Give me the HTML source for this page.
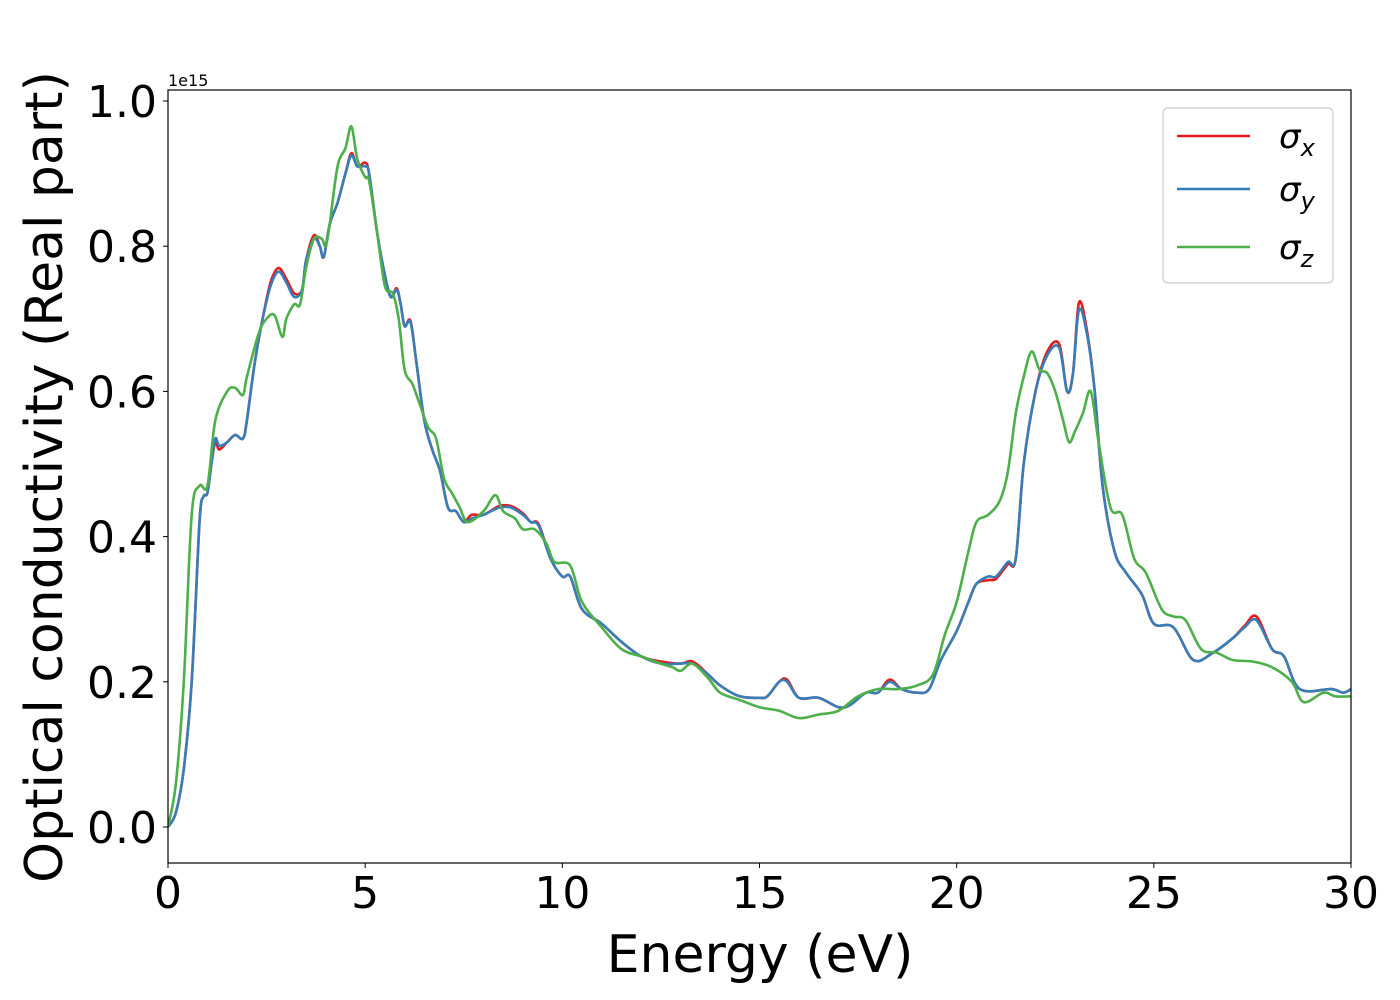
<!DOCTYPE html>
<html><head><meta charset="utf-8"><style>
html,body{margin:0;padding:0;background:#fff;}
svg{display:block;font-family:"DejaVu Sans","Liberation Sans",sans-serif;}
</style></head><body>
<svg id="chart" width="1400" height="1000" viewBox="0 0 1400 1000">
<rect x="0" y="0" width="1400" height="1000" fill="#fff"/>
<g id="plot"></g>
<g id="axes"></g>
<text x="168" y="86" font-size="16">1e15</text>
<text transform="translate(62,477) rotate(-90)" text-anchor="middle" font-size="52">Optical conductivity (Real part)</text>
<text x="760" y="972" text-anchor="middle" font-size="52">Energy (eV)</text>
<g>
<rect x="1163" y="108" width="170" height="175" rx="5" fill="#fff" stroke="#ccc" stroke-width="1.2"/>
<g><line x1="1177" y1="136" x2="1250" y2="136" stroke="#e41a1c" stroke-width="2.5"/><text x="1279" y="148" font-size="34" font-style="italic">σ<tspan font-size="24" dy="8">x</tspan></text></g>
<g><line x1="1177" y1="189" x2="1250" y2="189" stroke="#377eb8" stroke-width="2.5"/><text x="1279" y="201" font-size="34" font-style="italic">σ<tspan font-size="24" dy="8">y</tspan></text></g>
<g><line x1="1177" y1="247" x2="1250" y2="247" stroke="#4daf4a" stroke-width="2.5"/><text x="1279" y="259" font-size="34" font-style="italic">σ<tspan font-size="24" dy="8">z</tspan></text></g>
</g>
</svg>
<script>
const energyXY = [0,0.2,0.4,0.6,0.8,0.9,1.0,1.1,1.2,1.3,1.5,1.7,1.9,2.0,2.2,2.4,2.6,2.8,3.0,3.2,3.4,3.5,3.7,3.85,3.95,4.1,4.3,4.5,4.65,4.8,5.0,5.1,5.3,5.5,5.65,5.8,5.9,6.0,6.15,6.3,6.5,6.7,6.9,7.1,7.3,7.5,7.7,8.0,8.4,8.7,9.0,9.2,9.4,9.7,10.0,10.2,10.5,11,11.5,12,12.5,13,13.3,13.7,14,14.5,15,15.2,15.5,15.7,16,16.5,17,17.3,17.7,18,18.3,18.6,19,19.3,19.6,20,20.3,20.5,20.8,21,21.3,21.5,21.7,22,22.3,22.6,22.8,22.95,23.1,23.3,23.5,23.7,24,24.3,24.7,25,25.5,26,26.5,27,27.3,27.6,28,28.3,28.7,29.5,29.8,30];
const sigmaX = [0,0.02,0.08,0.2,0.42,0.455,0.46,0.5,0.53,0.52,0.53,0.54,0.535,0.56,0.64,0.7,0.75,0.77,0.755,0.735,0.74,0.78,0.815,0.8,0.785,0.83,0.86,0.9,0.928,0.91,0.915,0.9,0.82,0.76,0.73,0.742,0.72,0.69,0.697,0.64,0.56,0.52,0.49,0.44,0.435,0.42,0.43,0.43,0.442,0.442,0.432,0.42,0.417,0.37,0.345,0.345,0.3,0.28,0.255,0.235,0.228,0.225,0.228,0.21,0.195,0.18,0.178,0.18,0.2,0.203,0.178,0.178,0.165,0.168,0.185,0.185,0.203,0.19,0.185,0.19,0.23,0.27,0.31,0.335,0.34,0.342,0.362,0.37,0.5,0.6,0.655,0.665,0.6,0.625,0.722,0.685,0.6,0.47,0.38,0.35,0.32,0.28,0.275,0.23,0.24,0.26,0.277,0.29,0.245,0.235,0.19,0.19,0.185,0.19];
const sigmaY = [0,0.02,0.08,0.2,0.42,0.455,0.46,0.5,0.535,0.525,0.53,0.54,0.535,0.56,0.64,0.7,0.745,0.765,0.75,0.73,0.74,0.78,0.81,0.8,0.785,0.83,0.86,0.9,0.925,0.91,0.91,0.9,0.82,0.76,0.73,0.74,0.72,0.69,0.695,0.64,0.56,0.52,0.49,0.44,0.435,0.42,0.425,0.43,0.44,0.44,0.43,0.42,0.415,0.37,0.345,0.345,0.3,0.28,0.255,0.235,0.225,0.225,0.225,0.21,0.195,0.18,0.178,0.18,0.2,0.2,0.178,0.178,0.165,0.168,0.185,0.185,0.2,0.19,0.185,0.19,0.23,0.27,0.31,0.335,0.345,0.345,0.365,0.37,0.5,0.6,0.65,0.66,0.6,0.625,0.712,0.68,0.6,0.47,0.38,0.35,0.32,0.28,0.275,0.23,0.24,0.26,0.275,0.285,0.245,0.235,0.19,0.19,0.185,0.19];
const energyZ = [0,0.2,0.4,0.6,0.8,1.0,1.2,1.5,1.7,1.9,2.0,2.3,2.5,2.7,2.9,3.0,3.2,3.35,3.5,3.7,3.9,4.0,4.1,4.3,4.5,4.65,4.8,5.0,5.1,5.3,5.5,5.7,5.85,6.0,6.2,6.4,6.6,6.8,7.0,7.2,7.4,7.6,8.0,8.3,8.5,8.8,9.0,9.3,9.6,9.8,10.2,10.5,11,11.5,12,12.5,12.8,13,13.3,13.7,14,14.5,15,15.5,16,16.5,17,17.5,18,18.5,19,19.4,19.7,20,20.3,20.5,20.8,21.1,21.3,21.5,21.7,21.9,22.1,22.3,22.5,22.7,22.85,23.0,23.2,23.4,23.6,23.9,24.2,24.5,24.8,25.2,25.5,25.8,26.2,26.6,27,27.5,28,28.5,28.8,29.3,29.6,30];
const sigmaZ = [0,0.06,0.2,0.43,0.47,0.47,0.56,0.6,0.605,0.595,0.62,0.68,0.7,0.705,0.675,0.7,0.72,0.72,0.77,0.81,0.81,0.8,0.83,0.91,0.935,0.965,0.92,0.895,0.89,0.82,0.745,0.735,0.7,0.63,0.61,0.58,0.55,0.535,0.48,0.46,0.44,0.42,0.435,0.457,0.435,0.425,0.41,0.41,0.39,0.365,0.36,0.31,0.275,0.245,0.235,0.225,0.22,0.215,0.225,0.205,0.185,0.175,0.165,0.16,0.15,0.155,0.16,0.18,0.19,0.19,0.195,0.21,0.265,0.31,0.38,0.42,0.43,0.45,0.49,0.57,0.62,0.655,0.63,0.625,0.6,0.56,0.53,0.545,0.57,0.6,0.53,0.44,0.43,0.37,0.35,0.3,0.29,0.285,0.245,0.24,0.23,0.228,0.22,0.2,0.172,0.185,0.18,0.18];
const xTicks = [0,5,10,15,20,25,30];
const yTicks = [0.0,0.2,0.4,0.6,0.8,1.0];

const X0=168,X1=1351,Y0=863,Y1=90;
const xs = e => X0 + (e-0)/(30-0)*(X1-X0);
const ys = v => 827 - v*726;
const NS="http://www.w3.org/2000/svg";
function pathD(ex, vy){
  const p = ex.map((e,i)=>[xs(e),ys(vy[i])]);
  let d = "M"+p[0][0].toFixed(1)+","+p[0][1].toFixed(1);
  for(let i=0;i<p.length-1;i++){
    const a=p[Math.max(0,i-1)],b=p[i],c=p[i+1],n=p[Math.min(p.length-1,i+2)];
    const c1=[b[0]+(c[0]-a[0])/6,b[1]+(c[1]-a[1])/6];
    const c2=[c[0]-(n[0]-b[0])/6,c[1]-(n[1]-b[1])/6];
    d+=" C"+c1[0].toFixed(1)+","+c1[1].toFixed(1)+" "+c2[0].toFixed(1)+","+c2[1].toFixed(1)+" "+c[0].toFixed(1)+","+c[1].toFixed(1);
  }
  return d;
}
const plot=document.getElementById('plot');
const clip=document.createElementNS(NS,'clipPath');clip.setAttribute('id','cp');
const cr=document.createElementNS(NS,'rect');cr.setAttribute('x',X0);cr.setAttribute('y',Y1);cr.setAttribute('width',X1-X0);cr.setAttribute('height',Y0-Y1);
clip.appendChild(cr);plot.appendChild(clip);
function addLine(ex,vy,color,name){
  const el=document.createElementNS(NS,'path');
  el.setAttribute('d',pathD(ex,vy));
  el.setAttribute('fill','none');el.setAttribute('stroke',color);el.setAttribute('stroke-width','2.6');
  el.setAttribute('stroke-linejoin','round');el.setAttribute('clip-path','url(#cp)');
  
  
  plot.appendChild(el);
}
addLine(energyXY,sigmaX,'#e41a1c','sigma-x-line');
addLine(energyXY,sigmaY,'#377eb8','sigma-y-line');
addLine(energyZ,sigmaZ,'#4daf4a','sigma-z-line');

const axes=document.getElementById('axes');
const frame=document.createElementNS(NS,'rect');
frame.setAttribute('x',X0);frame.setAttribute('y',Y1);frame.setAttribute('width',X1-X0);frame.setAttribute('height',Y0-Y1);
frame.setAttribute('fill','none');frame.setAttribute('stroke','#000');frame.setAttribute('stroke-width','1.2');


axes.appendChild(frame);
xTicks.forEach(t=>{
  const l=document.createElementNS(NS,'line');
  l.setAttribute('x1',xs(t));l.setAttribute('x2',xs(t));l.setAttribute('y1',Y0);l.setAttribute('y2',Y0+5);l.setAttribute('stroke','#000');
  
  
  axes.appendChild(l);
  const tx=document.createElementNS(NS,'text');
  tx.setAttribute('x',xs(t));tx.setAttribute('y',908);tx.setAttribute('text-anchor','middle');tx.setAttribute('font-size','44');
  tx.textContent=String(t);
  
  
  axes.appendChild(tx);
});
yTicks.forEach(t=>{
  const l=document.createElementNS(NS,'line');
  l.setAttribute('x1',X0-5);l.setAttribute('x2',X0);l.setAttribute('y1',ys(t));l.setAttribute('y2',ys(t));l.setAttribute('stroke','#000');
  
  
  axes.appendChild(l);
  const tx=document.createElementNS(NS,'text');
  tx.setAttribute('x',157);tx.setAttribute('y',ys(t)+16);tx.setAttribute('text-anchor','end');tx.setAttribute('font-size','44');
  tx.textContent=t.toFixed(1);
  
  
  axes.appendChild(tx);
});
</script>
</body></html>
